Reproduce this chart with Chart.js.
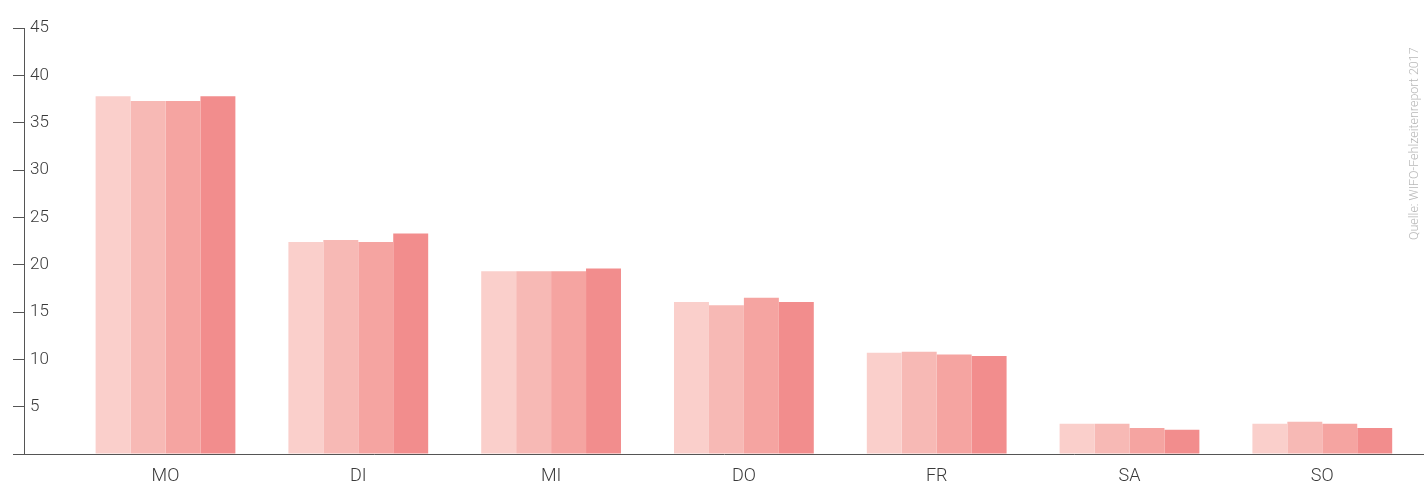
<!DOCTYPE html>
<html>
<head>
<meta charset="utf-8">
<script src="https://cdn.jsdelivr.net/npm/chart.js@4.4.1/dist/chart.umd.min.js"></script>
<style>
html,body{margin:0;padding:0;background:#fff;}
#wrap{position:relative;width:1424px;height:487px;}
</style>
</head>
<body>
<div id="wrap"><canvas id="c" width="1424" height="487"></canvas></div>
<script>
const categories = ['MO', 'DI', 'MI', 'DO', 'FR', 'SA', 'SO'];
const series1 = [37.8, 22.4, 19.3, 16.05, 10.7, 3.2, 3.2];
const series2 = [37.3, 22.6, 19.3, 15.7, 10.8, 3.2, 3.4];
const series3 = [37.3, 22.4, 19.3, 16.5, 10.5, 2.75, 3.2];
const series4 = [37.8, 23.3, 19.6, 16.05, 10.35, 2.55, 2.75];
const yTicks = [0, 5, 10, 15, 20, 25, 30, 35, 40, 45];
const sourceText = 'Quelle: WIFO-Fehlzeitenreport 2017';

const colors = ['#facfcb', '#f7b9b5', '#f5a4a1', '#f28d8d'];
const allSeries = [series1, series2, series3, series4];

const datasets = allSeries.map((s, k) => ({
  label: 'S' + (k + 1),
  data: s.map((v, i) => ({x: i, y: v})),
  backgroundColor: colors[k],
  borderWidth: 0,
  categoryPercentage: 0.725,
  barPercentage: 1.0
}));

const sourcePlugin = {
  id: 'source',
  afterDraw(chart) {
    const ctx = chart.ctx;
    ctx.save();
    ctx.translate(1415, 240);
    ctx.rotate(-Math.PI / 2);
    ctx.font = '300 12.5px Roboto';
    ctx.fillStyle = '#b8b8b8';
    ctx.textAlign = 'left';
    ctx.textBaseline = 'middle';
    ctx.fillText(sourceText, 0, 0);
    ctx.restore();
  }
};

new Chart(document.getElementById('c'), {
  type: 'bar',
  data: { datasets },
  options: {
    responsive: false,
    animation: false,
    devicePixelRatio: 1,
    layout: { padding: { top: 28, left: 0, right: 0, bottom: 0 } },
    plugins: { legend: { display: false }, tooltip: { enabled: false } },
    scales: {
      x: {
        type: 'linear',
        offset: false,
        min: (24 - 165.5) / 192.8,
        max: (1424 - 165.5) / 192.8,
        afterFit(scale) { scale.height = 33; },
        grid: { display: false, drawTicks: false, offset: false },
        border: { display: true, color: '#555', width: 1 },
        ticks: {
          stepSize: 1,
          includeBounds: false,
          autoSkip: false,
          maxRotation: 0,
          padding: 12,
          color: '#3a3a3a',
          font: { family: 'Roboto', size: 18, weight: '300' },
          callback: (v) => (Number.isInteger(v) && v >= 0 && v < categories.length) ? categories[v] : ''
        }
      },
      y: {
        min: 0,
        max: 45,
        afterFit(scale) { scale.width = 24; },
        afterBuildTicks(scale) { scale.ticks = yTicks.map(v => ({value: v})); },
        grid: { display: true, drawOnChartArea: false, drawTicks: true, tickLength: 11, color: '#555', lineWidth: 1 },
        border: { display: true, color: '#555', width: 1 },
        ticks: {
          mirror: true,
          padding: 6,
          color: '#3a3a3a',
          font: { family: 'Roboto', size: 17, weight: '300' },
          callback: (v) => v === 0 ? '' : String(v)
        }
      }
    }
  },
  plugins: [sourcePlugin]
});
</script>
</body>
</html>
